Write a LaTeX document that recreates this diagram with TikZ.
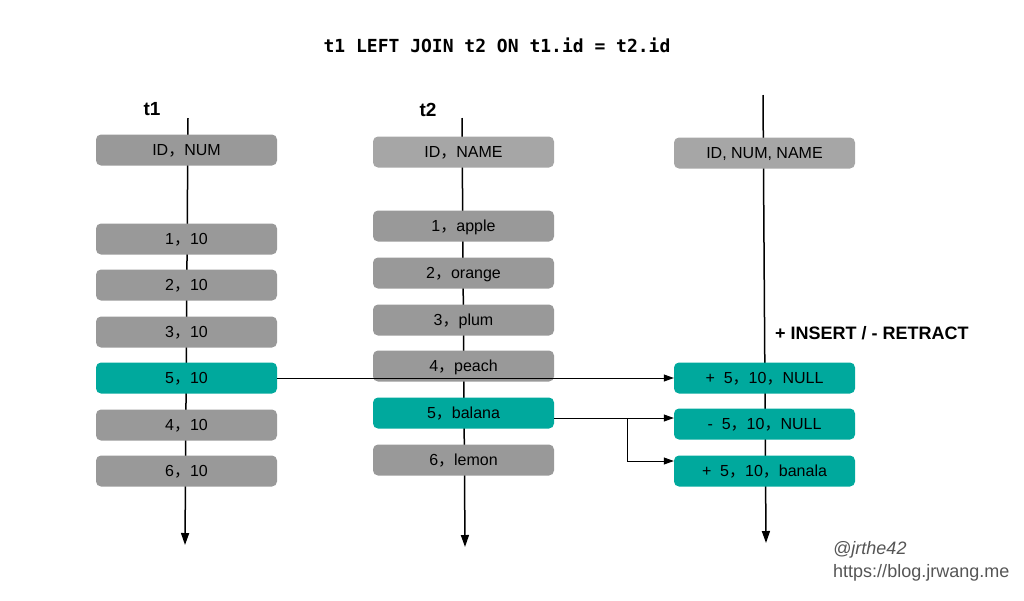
\documentclass[tikz,border=0pt]{standalone}
\usepackage{fontspec}
\setmainfont{Liberation Sans}
\newfontfamily\cjk{Noto Sans CJK SC}
\newfontfamily\codefont{DejaVu Sans Mono}
\usepackage{tikz}
\usetikzlibrary{arrows.meta, positioning}
\definecolor{rowgray}{HTML}{999999}
\definecolor{headgray}{HTML}{A6A6A6}
\definecolor{teal}{HTML}{00A99D}
\definecolor{markgray}{HTML}{555555}
\newcommand{\zc}{{\cjk ，}}
\tikzstyle{box} = [rounded corners = 5pt, minimum width = 181pt, minimum height = 31pt, inner sep = 0pt, text height = 12pt, text depth = 1pt, font = \fontsize{16}{19}\selectfont]
\tikzstyle{rnode} = [box, fill = rowgray]
\tikzstyle{hnode} = [box, fill = headgray]
\tikzstyle{tnode} = [box, fill = teal]
\tikzstyle{stream} = [draw, line width = 1.5pt, -{Triangle[length = 12pt, width = 8pt]}]
\tikzstyle{arrow} = [draw, line width = 0.8pt, -{Triangle[length = 10pt, width = 7pt]}]

\begin{document}
\begin{tikzpicture}[x = 1pt, y = -1pt]
			\useasboundingbox (0, 0) rectangle (1024, 600);
			\node [font = \codefont\bfseries\fontsize{18}{21}\selectfont] (title) at (497, 45) {t1 LEFT JOIN t2 ON t1.id = t2.id};
			\node [font = \bfseries\fontsize{19}{22}\selectfont] (t1) at (152, 109) {t1};
			\node [font = \bfseries\fontsize{19}{22}\selectfont] (t2) at (428, 110) {t2};
			\node [font = \bfseries\fontsize{18}{21}\selectfont, anchor = west, inner sep = 0pt] (legend) at (775, 333) {+ INSERT / - RETRACT};
			
			% streams
			\coordinate (t1top) at (188, 118);
			\coordinate (t1bot) at (185, 545);
			\coordinate (t2top) at (462, 118);
			\coordinate (t2bot) at (465, 547);
			\coordinate (outtop) at (763, 95);
			\coordinate (outbot) at (766, 543);
			\path [stream] (t1top) -- (t1bot);
			\path [stream] (t2top) -- (t2bot);
			\path [stream] (outtop) -- (outbot);
			
			% t1
			\node [rnode] (t1head) at (186.5, 150) {ID\zc NUM};
			\node [rnode] (t1r1) at (186.5, 239) {1\zc 10};
			\node [rnode] (t1r2) at (186.5, 285) {2\zc 10};
			\node [rnode] (t1r3) at (186.5, 332) {3\zc 10};
			\node [tnode] (t1r5) at (186.5, 378) {5\zc 10};
			\node [rnode] (t1r4) at (186.5, 425) {4\zc 10};
			\node [rnode] (t1r6) at (186.5, 471) {6\zc 10};
			
			% t2
			\node [hnode] (t2head) at (463.5, 152) {ID\zc NAME};
			\node [rnode] (t2r1) at (463.5, 226) {1\zc apple};
			\node [rnode] (t2r2) at (463.5, 273) {2\zc orange};
			\node [rnode] (t2r3) at (463.5, 320) {3\zc plum};
			\node [rnode] (t2r4) at (463.5, 366) {4\zc peach};
			\node [tnode] (t2r5) at (463.5, 413) {5\zc balana};
			\node [rnode] (t2r6) at (463.5, 460) {6\zc lemon};
			
			% result
			\node [hnode] (outhead) at (764.5, 153) {ID, NUM, NAME};
			\node [tnode] (outr1) at (764.5, 378) {+\ \ 5\zc 10\zc NULL};
			\node [tnode] (outr2) at (764.5, 424) {-\ \ 5\zc 10\zc NULL};
			\node [tnode] (outr3) at (764.5, 471) {+\ \ 5\zc 10\zc banala};
			
			\path [arrow] (t1r5.east) -- (outr1.west);
			\coordinate (src) at ([yshift = -5pt]t2r5.east);
			\coordinate (split) at (627, 418);
			\path [arrow] (src) -- (src -| outr2.west);
			\path [arrow] (split) |- ([yshift = 10pt]outr3.west);
			
			\node [font = \itshape\fontsize{18}{21}\selectfont, text = markgray, anchor = west, inner sep = 0pt] (handle) at (833, 550) {@jrthe42};
			\node [font = \fontsize{18}{21}\selectfont, text = markgray, anchor = west, inner sep = 0pt] (site) at (833, 573) {https://blog.jrwang.me};
		\end{tikzpicture}
\end{document}
